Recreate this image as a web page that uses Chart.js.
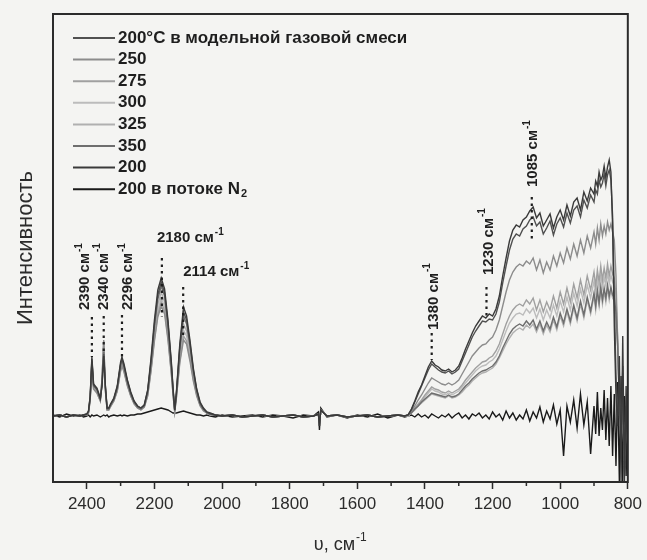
<!DOCTYPE html>
<html>
<head>
<meta charset="utf-8">
<script src="https://cdn.jsdelivr.net/npm/chart.js@4.4.1/dist/chart.umd.min.js"></script>
<style>
  body { margin: 0; background: #f4f4f2; }
  #spectra { display: block; }
</style>
</head>
<body>
<canvas id="spectra" width="647" height="560"></canvas>
<script>
// wavenumber grid, cm-1 (denser around the peaks and in the noisy end)
const wnEdge = [2500, 2480, 2460, 2440, 2420, 2410];
const wnPeaks = [2400, 2395, 2390, 2385, 2380, 2370, 2360, 2355, 2350, 2345, 2340, 2335, 2330, 2320, 2310,
  2300, 2296, 2290, 2280, 2270, 2260, 2250, 2240, 2230, 2220, 2210, 2200, 2190, 2180, 2170, 2160, 2150,
  2145, 2140, 2135, 2125, 2114, 2105, 2095, 2085, 2075, 2065, 2055, 2045, 2035, 2020];
const wnMid = [2000, 1970, 1940, 1910, 1880, 1850, 1820, 1790, 1760, 1730, 1715, 1712, 1708, 1690, 1660,
  1630, 1600, 1570, 1540, 1510, 1480, 1460];
const wnRise = [1450, 1440, 1430, 1420, 1410, 1400, 1390, 1380, 1370, 1360, 1350, 1340, 1330, 1320, 1310,
  1300, 1290, 1280, 1270, 1260, 1250, 1240, 1230, 1220, 1210, 1200, 1190, 1180, 1170, 1160, 1150, 1140,
  1130, 1120, 1110, 1100, 1090, 1080, 1070, 1060, 1050, 1040, 1030, 1020, 1010, 1000, 990, 980, 970, 960,
  950, 940, 930, 920, 910, 900, 895, 890, 885, 880, 875, 870, 865, 860, 855, 850, 845, 840, 835, 830, 825,
  820, 815, 810, 805, 800];
const waveNumbers = [...wnEdge, ...wnPeaks, ...wnMid, ...wnRise];

// flat stretches shared by the spectra taken in the gas mixture
const flatEdge = [0, 1, -1, 1, 0, 1];
const flatMid = [0, 1, -1, 0, 1, -1, 0, 1, -1, 0, 2, -10, 6, 0, 1, -1, 0, 1, -1, 0, 1, 0];

const model200Peaks = [2, 5, 19, 57, 31, 27, 17, 31, 62, 29, 8, 8, 11, 17, 29, 52, 57, 50, 35, 23, 14, 10, 8, 11,
  25, 55, 92, 121, 134, 123, 93, 52, 27, 6, 23, 69, 104, 96, 73, 46, 26, 13, 7, 4, 2, 1];
const model200Rise = [1, 6, 14, 22, 30, 38, 46, 52, 49, 46, 44, 43, 45, 42, 44, 47, 55, 63, 71, 79, 85, 90, 95,
  94, 97, 96, 102, 114, 133, 150, 166, 177, 182, 180, 187, 190, 196, 199, 190, 194, 182, 188, 195, 181, 192,
  198, 189, 203, 193, 206, 210, 199, 216, 208, 221, 214,
  226, 222, 236, 229, 233, 242, 230, 241, 246, 236, 200, 120, 40, 0, 40, -30, 50, -50, 10, -40];

const t250Peaks = [1, 3, 16, 50, 27, 23, 15, 38, 76, 25, 6, 6, 9, 15, 25, 45, 50, 44, 30, 20, 12, 8, 6, 9, 20, 45,
  75, 99, 110, 102, 76, 42, 21, 4, 18, 53, 76, 72, 55, 35, 20, 10, 5, 3, 1, 1];
const t250Rise = [1, 5, 10, 16, 21, 27, 33, 38, 36, 34, 32, 31, 33, 31, 33, 36, 42, 48, 54, 60, 64, 68, 71, 72,
  76, 79, 86, 96, 110, 124, 136, 144, 149, 152, 150, 155, 152, 158, 146, 156, 143, 154, 146, 160, 150, 163,
  153, 168, 157, 172, 160, 176, 163, 180, 168, 184,
  172, 188, 176, 192, 180, 190, 182, 194, 186, 192, 184, 176, 140, 70, 10, -30, 20, -50, 5, -20];

const t275Peaks = [1, 3, 16, 51, 27, 23, 15, 37, 75, 25, 6, 6, 10, 15, 25, 46, 51, 45, 31, 20, 12, 8, 6, 9, 21, 46,
  77, 102, 114, 105, 78, 43, 22, 4, 19, 55, 80, 75, 58, 37, 21, 11, 6, 3, 2, 1];
const t275Rise = [0, 4, 8, 12, 16, 21, 25, 29, 27, 26, 24, 23, 25, 23, 25, 27, 31, 36, 40, 44, 48, 51, 54, 55,
  58, 60, 65, 72, 82, 92, 100, 106, 110, 112, 110, 116, 112, 118, 106, 116, 104, 114, 106, 120, 108, 124,
  112, 128, 114, 132, 118, 136, 121, 140, 126, 144,
  130, 146, 134, 150, 136, 148, 138, 152, 140, 150, 142, 138, 120, 80, 20, -20, 15, -45, 0, -30];

const t300Peaks = [1, 4, 17, 52, 28, 24, 16, 36, 73, 26, 6, 7, 10, 16, 26, 48, 52, 46, 32, 21, 13, 8, 7, 10, 22, 48,
  80, 106, 118, 109, 81, 45, 23, 5, 20, 58, 86, 80, 61, 39, 22, 11, 6, 3, 1, 1];
const t300Rise = [0, 3, 7, 11, 15, 19, 23, 27, 25, 24, 22, 21, 23, 21, 23, 25, 29, 33, 37, 41, 45, 48, 50, 51,
  54, 56, 60, 67, 76, 85, 93, 98, 102, 103, 101, 107, 103, 108, 98, 107, 96, 106, 98, 111, 100, 115, 104,
  119, 106, 123, 110, 127, 113, 131, 118, 135,
  122, 138, 126, 141, 128, 139, 130, 143, 132, 141, 134, 130, 112, 75, 18, -18, 12, -40, 2, -25];

const t325Peaks = [2, 4, 17, 54, 29, 25, 16, 35, 70, 27, 7, 7, 10, 16, 27, 49, 54, 47, 33, 21, 13, 9, 7, 10, 23, 50,
  84, 111, 124, 114, 85, 47, 24, 5, 21, 62, 92, 85, 65, 41, 23, 12, 6, 3, 2, 1];
const t325Rise = [0, 3, 6, 10, 13, 16, 19, 22, 21, 20, 19, 18, 20, 18, 19, 21, 24, 28, 31, 35, 38, 41, 43, 44,
  46, 48, 52, 58, 65, 72, 78, 83, 86, 88, 86, 91, 88, 92, 84, 92, 82, 91, 84, 96, 86, 100, 90, 104, 92, 108,
  95, 112, 98, 116, 102, 120,
  106, 122, 110, 126, 112, 124, 114, 128, 116, 126, 118, 115, 100, 68, 15, -15, 10, -35, 0, -20];

const t350Peaks = [1, 4, 18, 55, 30, 26, 17, 32, 64, 28, 7, 7, 11, 17, 28, 51, 56, 49, 34, 22, 14, 9, 7, 10, 24, 53,
  89, 117, 130, 120, 90, 50, 26, 5, 22, 66, 100, 92, 70, 44, 25, 12, 7, 3, 2, 1];
const t350Rise = [1, 3, 7, 10, 14, 17, 20, 23, 22, 21, 20, 19, 21, 19, 20, 22, 26, 30, 33, 37, 40, 43, 45, 46,
  48, 50, 54, 60, 68, 75, 82, 87, 90, 92, 90, 95, 91, 96, 87, 95, 85, 94, 87, 99, 89, 103, 93, 107, 95, 111,
  98, 115, 101, 119, 105, 123,
  110, 126, 113, 129, 116, 128, 118, 131, 120, 129, 121, 118, 104, 70, 12, -12, 8, -38, -2, -22];

const t200Peaks = [2, 5, 20, 59, 32, 28, 18, 30, 60, 30, 8, 8, 12, 18, 30, 54, 59, 52, 36, 24, 15, 10, 8, 11, 26, 58,
  96, 126, 138, 127, 96, 54, 28, 6, 24, 72, 109, 100, 76, 48, 27, 14, 8, 4, 3, 1];
const t200Rise = [1, 7, 15, 24, 31, 40, 49, 55, 51, 49, 46, 45, 47, 44, 46, 50, 58, 67, 75, 83, 90, 95, 100, 98,
  102, 100, 107, 120, 140, 158, 175, 186, 191, 189, 196, 199, 205, 209, 198, 203, 190, 196, 202, 188, 199,
  206, 196, 211, 200, 214, 218, 206, 224, 215, 228, 222,
  235, 230, 244, 236, 240, 250, 238, 249, 256, 244, 190, 90, 20, -10, 60, -66, 80, -66, 30, -66];

// spectrum in N2 flow, whole range
const n2Edge = [1, -1, 2, 0, 1, -1];
const n2Peaks = [0, 1, -1, 1, 0, 1, -1, 0, 1, 0, 1, -1, 0, 1, 0, 1, 0, 1, 0, 1, 1, 2, 2, 3, 4, 5, 6, 7, 8, 7, 6, 4,
  3, 3, 3, 4, 5, 4, 3, 2, 1, 1, 0, 1, 0, -1];
const n2Mid = [1, -1, 0, 1, -1, 1, 0, -2, 1, 0, 4, -14, 8, -1, 1, -2, 1, -1, 2, -2, 1, -1];
const n2Rise = [0, 1, -1, 2, -1, 1, -2, 2, 0, -2, 1, -1, 2, -2, 1, 3, -2, 1, -3, 2, 0, 3, -2, 1, -3, 4, -1, 2,
  -4, 5, -2, 3, -4, 1, -3, 6, -5, 4, -2, 9, -6, 5, -3, 11, -8, 6, -40, 10, -6, 16, -12, 22, -9, 14, -38, 10,
  -18, 24, -20, 8, -14, 26, -24, 18, -30, 30, -40, 22, -50, 34, -66, 40, -66, 20, -60, 12];

const seriesNames = ['200°C в модельной газовой смеси', '250', '275', '300', '325', '350', '200', '200 в потоке N2'];
const seriesValues = [
  [...flatEdge, ...model200Peaks, ...flatMid, ...model200Rise],
  [...flatEdge, ...t250Peaks, ...flatMid, ...t250Rise],
  [...flatEdge, ...t275Peaks, ...flatMid, ...t275Rise],
  [...flatEdge, ...t300Peaks, ...flatMid, ...t300Rise],
  [...flatEdge, ...t325Peaks, ...flatMid, ...t325Rise],
  [...flatEdge, ...t350Peaks, ...flatMid, ...t350Rise],
  [...flatEdge, ...t200Peaks, ...flatMid, ...t200Rise],
  [...n2Edge, ...n2Peaks, ...n2Mid, ...n2Rise],
];
const seriesColors = ['#505050', '#8c8c8c', '#a0a0a0', '#bcbcbc', '#b0b0b0', '#6e6e6e', '#3a3a3a', '#1a1a1a'];
const drawOrder = [1, 3, 4, 6, 5, 2, 0, 7];

// peak marks: label text, where the dots stand, dot span and label place (intensity units)
const peakText = ['2390', '2340', '2296', '2180', '2114', '1380', '1230', '1085'];
const peakMark = [2385, 2350, 2296, 2178, 2115, 1380, 1218, 1084];
const dotFrom = [99, 100, 101, 158, 129, 83, 129, 219];
const dotTo = [59, 62, 59, 99, 79, 56, 99, 176];
const labelAt = [106, 106, 106, 178, 144, 86, 141, 229];
const labelShift = [-7, 0, 6, -5, 0, 2, 2, 1];
const labelRotated = [true, true, true, false, false, true, true, true];

const FONT = '"Liberation Sans", Arial, sans-serif';

const drawWaveLabel = (ctx, text, x, y, rotated) => {
  ctx.save();
  ctx.translate(x, y);
  if (rotated) ctx.rotate(-Math.PI / 2);
  ctx.fillStyle = '#1e1e1e';
  ctx.textBaseline = 'middle';
  ctx.textAlign = 'left';
  ctx.font = `bold 15px ${FONT}`;
  const main = `${text} см`;
  ctx.fillText(main, 0, 0);
  const w = ctx.measureText(main).width;
  ctx.font = `bold 10px ${FONT}`;
  ctx.fillText('-1', w + 1, -6);
  ctx.restore();
};

const decorations = {
  id: 'decorations',
  afterDatasetsDraw(chart) {
    const { ctx, scales: { x, y } } = chart;
    peakMark.forEach((w, i) => {
      const px = x.getPixelForValue(w);
      ctx.save();
      ctx.setLineDash([2.5, 4]);
      ctx.lineWidth = 2.2;
      ctx.strokeStyle = '#1e1e1e';
      ctx.beginPath();
      ctx.moveTo(px, y.getPixelForValue(dotFrom[i]));
      ctx.lineTo(px, y.getPixelForValue(dotTo[i]));
      ctx.stroke();
      ctx.restore();
      drawWaveLabel(ctx, peakText[i], px + labelShift[i], y.getPixelForValue(labelAt[i]), labelRotated[i]);
    });
  },
  afterDraw(chart) {
    const { ctx, chartArea: a, scales: { x } } = chart;
    // frame
    ctx.save();
    ctx.strokeStyle = '#2b2b2b';
    ctx.lineWidth = 2;
    ctx.strokeRect(a.left, a.top, a.right - a.left, a.bottom - a.top);
    // minor ticks
    ctx.lineWidth = 1.5;
    for (let v = 900; v < 2500; v += 200) {
      const px = x.getPixelForValue(v);
      ctx.beginPath();
      ctx.moveTo(px, a.bottom);
      ctx.lineTo(px, a.bottom + 4);
      ctx.stroke();
    }
    // legend
    ctx.textBaseline = 'middle';
    ctx.textAlign = 'left';
    seriesNames.forEach((name, i) => {
      const ly = 38 + i * 21.6;
      ctx.strokeStyle = seriesColors[i];
      ctx.lineWidth = 2;
      ctx.beginPath();
      ctx.moveTo(73, ly);
      ctx.lineTo(115, ly);
      ctx.stroke();
      ctx.fillStyle = '#1e1e1e';
      ctx.font = `bold 17px ${FONT}`;
      if (name.endsWith('N2')) {
        const head = name.slice(0, -1);
        ctx.fillText(head, 118, ly);
        const w = ctx.measureText(head).width;
        ctx.font = `bold 11px ${FONT}`;
        ctx.fillText('2', 118 + w + 1, ly + 5);
      } else {
        ctx.fillText(name, 118, ly);
      }
    });
    // axis titles
    ctx.fillStyle = '#2b2b2b';
    ctx.font = `18px ${FONT}`;
    ctx.textAlign = 'left';
    const title = 'υ, см';
    const tw = ctx.measureText(title).width;
    const tx = (a.left + a.right) / 2 - (tw + 12) / 2;
    ctx.fillText(title, tx, 545);
    ctx.font = `12px ${FONT}`;
    ctx.fillText('-1', tx + tw + 1, 538);
    ctx.translate(26, (a.top + a.bottom) / 2);
    ctx.rotate(-Math.PI / 2);
    ctx.textAlign = 'center';
    ctx.font = `22px ${FONT}`;
    ctx.fillText('Интенсивность', 0, 0);
    ctx.restore();
  },
};

const datasets = seriesNames.map((name, i) => ({
  label: name,
  data: waveNumbers.map((w, j) => ({ x: w, y: seriesValues[i][j] })),
  borderColor: seriesColors[i],
  borderWidth: 1.4,
  pointRadius: 0,
  tension: 0,
  order: drawOrder[i],
}));

const spectraChart = new Chart(document.getElementById('spectra'), {
  type: 'line',
  data: { datasets },
  options: {
    responsive: false,
    animation: false,
    layout: { padding: { left: 53, right: 18, top: 14, bottom: 0 } },
    plugins: { legend: { display: false }, tooltip: { enabled: false } },
    scales: {
      x: {
        type: 'linear',
        reverse: true,
        min: 800,
        max: 2500,
        border: { display: false },
        grid: {
          drawOnChartArea: false,
          tickLength: 7,
          tickWidth: 1.5,
          tickColor: (c) => (c.tick && c.tick.value % 200 === 0 ? '#2b2b2b' : 'rgba(0,0,0,0)'),
        },
        ticks: {
          stepSize: 100,
          autoSkip: false,
          maxRotation: 0,
          padding: 5,
          color: '#2b2b2b',
          font: { family: FONT, size: 17 },
          callback: (v) => (v % 200 === 0 ? String(v) : ''),
        },
        afterFit: (scale) => { scale.height = 78; },
      },
      y: { display: false, min: -66, max: 402 },
    },
  },
  plugins: [decorations],
});
</script>
</body>
</html>
